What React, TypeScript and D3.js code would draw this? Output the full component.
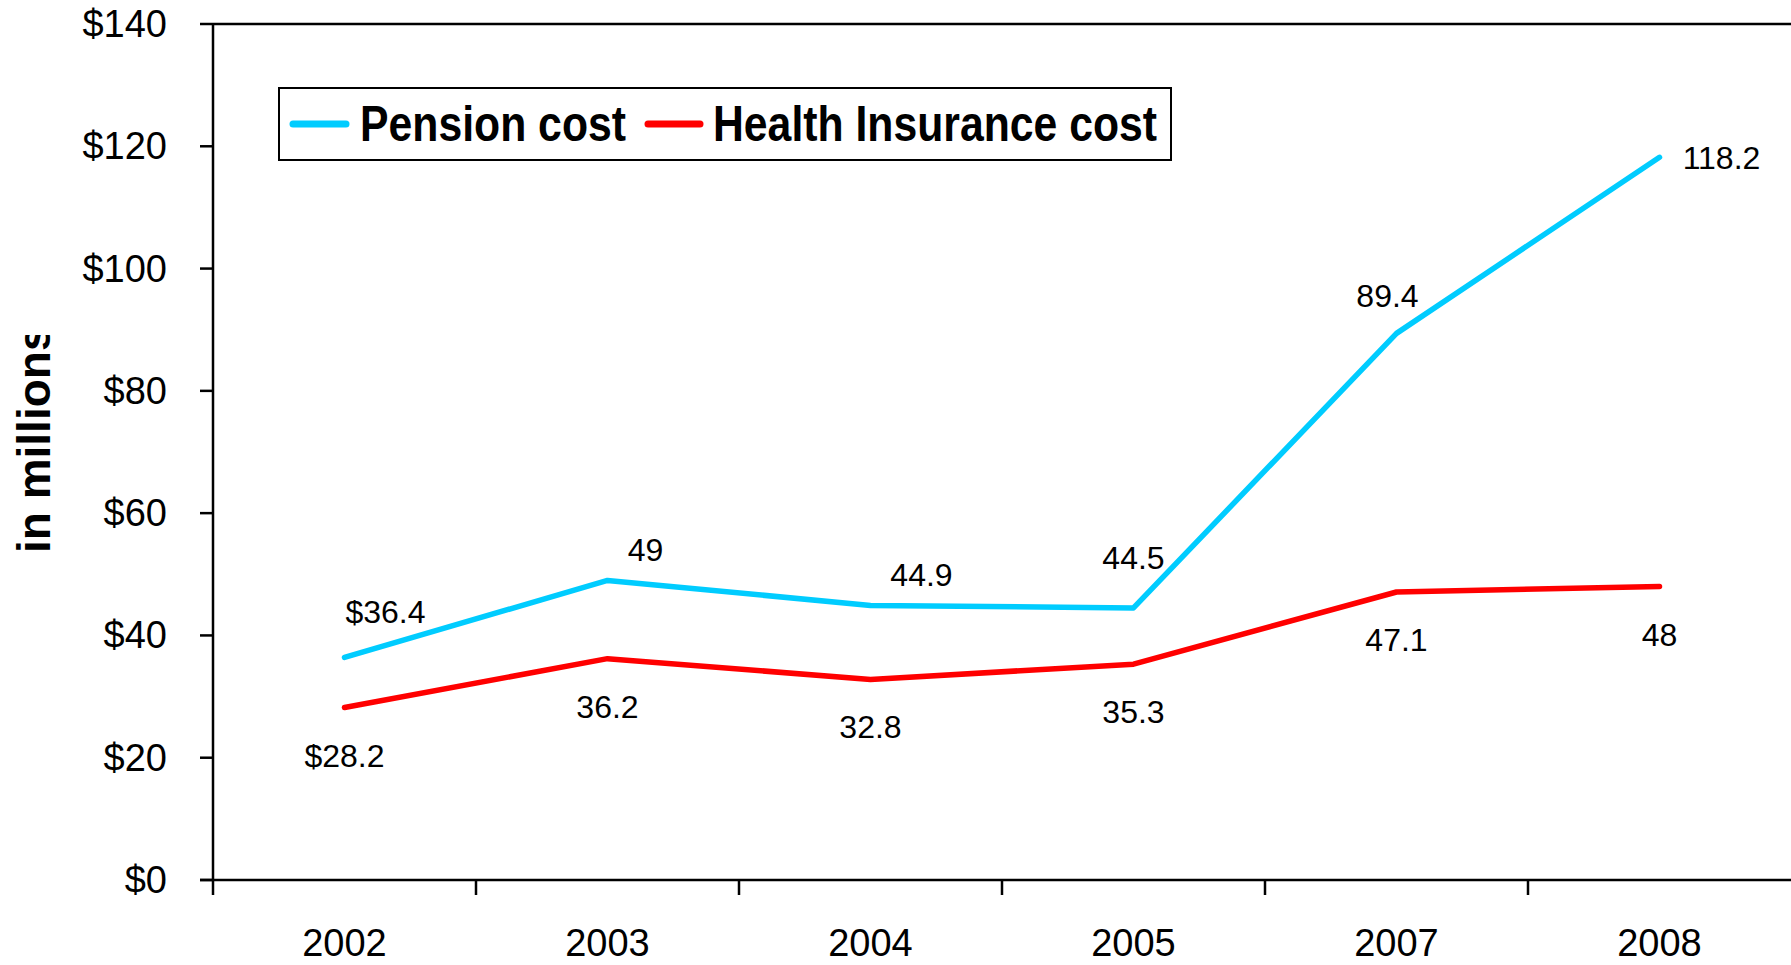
import React from "react";
import * as d3 from "d3";

const years = ["2002", "2003", "2004", "2005", "2007", "2008"];
const pension = [36.4, 49, 44.9, 44.5, 89.4, 118.2];
const health = [28.2, 36.2, 32.8, 35.3, 47.1, 48];
const pensionLabels = ["$36.4", "49", "44.9", "44.5", "89.4", "118.2"];
const healthLabels = ["$28.2", "36.2", "32.8", "35.3", "47.1", "48"];
const yTicks = [0, 20, 40, 60, 80, 100, 120, 140];
// manual label offsets (px) as placed in the original chart
const pensionLabelDx = [41, 38, 51, 0, -9, 62];
const pensionLabelDy = [-45, -30, -30, -50, -37, 1];
const healthLabelDy = 48;

const W = 1791;
const H = 965;
const left = 213;
const right = 1791;
const top = 24;
const bottom = 880;

export default function App() {
  const x = d3.scaleBand<string>().domain(years).range([left, right]).padding(0);
  const y = d3.scaleLinear().domain([0, 140]).range([bottom, top]);
  const cx = (i: number) => (x(years[i]) as number) + x.bandwidth() / 2;
  const line = d3
    .line<number>()
    .x((_, i) => cx(i))
    .y((d) => y(d));
  const font = "'Liberation Sans', Arial, sans-serif";
  const tickEdges = years.map((yr) => x(yr) as number);

  return (
    <svg
      width={W}
      height={H}
      style={{ position: "absolute", left: 0, top: 0, background: "#fff" }}
      fontFamily={font}
    >
      <defs>
        <clipPath id="ylabclip">
          <rect x={0} y={335} width={80} height={300} />
        </clipPath>
      </defs>
      <rect x={0} y={0} width={W} height={H} fill="#fff" />
      {/* plot frame */}
      <line x1={left} x2={right} y1={top} y2={top} stroke="#000" strokeWidth={2.5} />
      <line x1={left} x2={left} y1={top} y2={bottom} stroke="#000" strokeWidth={2.5} />
      <line x1={left - 13} x2={right} y1={bottom} y2={bottom} stroke="#000" strokeWidth={2.5} />
      {yTicks.map((t) => (
        <g key={t}>
          <line x1={left - 13} x2={left} y1={y(t)} y2={y(t)} stroke="#000" strokeWidth={2.5} />
          <text
            x={167}
            y={y(t)}
            textAnchor="end"
            dominantBaseline="central"
            fontSize={38}
            fill="#000"
          >
            {"$" + t}
          </text>
        </g>
      ))}
      {tickEdges.map((e, i) => (
        <line key={i} x1={e} x2={e} y1={bottom} y2={bottom + 15} stroke="#000" strokeWidth={2.5} />
      ))}
      {years.map((yr, i) => (
        <text
          key={yr}
          x={cx(i)}
          y={956}
          textAnchor="middle"
          fontSize={38}
          fill="#000"
        >
          {yr}
        </text>
      ))}
      {/* y-axis title */}
      <g clipPath="url(#ylabclip)">
        <text
          transform={`translate(50,553) rotate(-90)`}
          fontSize={46}
          fontWeight="bold"
          fill="#000"
        >
          in millions
        </text>
      </g>
      {/* lines */}
      <path d={line(health) || ""} fill="none" stroke="#FF0000" strokeWidth={5.5} strokeLinejoin="round" strokeLinecap="round" />
      <path d={line(pension) || ""} fill="none" stroke="#00CCFF" strokeWidth={5.5} strokeLinejoin="round" strokeLinecap="round" />
      {/* data labels */}
      {pension.map((v, i) => (
        <text
          key={"p" + i}
          x={cx(i) + pensionLabelDx[i]}
          y={y(v) + pensionLabelDy[i]}
          textAnchor="middle"
          dominantBaseline="central"
          fontSize={32}
          fill="#000"
        >
          {pensionLabels[i]}
        </text>
      ))}
      {health.map((v, i) => (
        <text
          key={"h" + i}
          x={cx(i)}
          y={y(v) + healthLabelDy}
          textAnchor="middle"
          dominantBaseline="central"
          fontSize={32}
          fill="#000"
        >
          {healthLabels[i]}
        </text>
      ))}
      {/* legend */}
      <rect x={279} y={88} width={892} height={72} fill="#fff" stroke="#000" strokeWidth={2} />
      <line x1={293} x2={346} y1={124} y2={124} stroke="#00CCFF" strokeWidth={7} strokeLinecap="round" />
      <text
        x={360}
        y={124}
        dominantBaseline="central"
        fontSize={50}
        fontWeight="bold"
        textLength={266}
        lengthAdjust="spacingAndGlyphs"
        fill="#000"
      >
        Pension cost
      </text>
      <line x1={648} x2={700} y1={124} y2={124} stroke="#FF0000" strokeWidth={7} strokeLinecap="round" />
      <text
        x={713}
        y={124}
        dominantBaseline="central"
        fontSize={50}
        fontWeight="bold"
        textLength={444}
        lengthAdjust="spacingAndGlyphs"
        fill="#000"
      >
        Health Insurance cost
      </text>
    </svg>
  );
}
